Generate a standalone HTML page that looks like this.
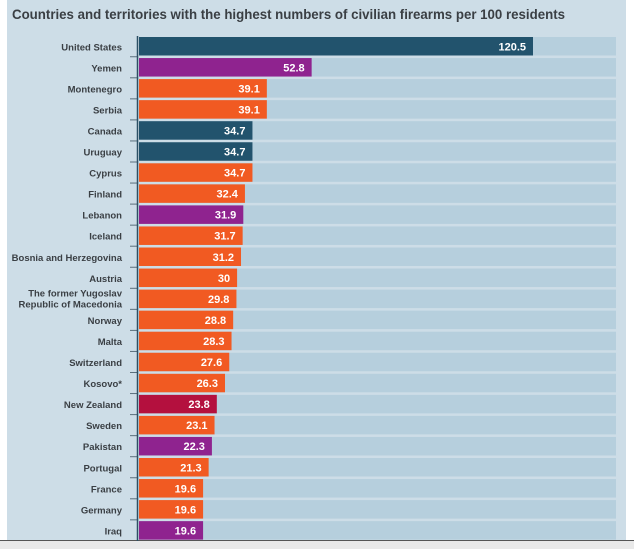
<!DOCTYPE html>
<html><head><meta charset="utf-8"><style>
body{margin:0;width:634px;height:549px;overflow:hidden;background:#fff;font-family:"Liberation Sans",sans-serif}
</style></head><body>
<svg id="chart" width="634" height="549" xmlns="http://www.w3.org/2000/svg">
<rect x="7" y="0" width="619" height="541" fill="#cddde7"/>
<rect x="0" y="541" width="634" height="8" fill="#e9e9e9"/>
<line x1="0" y1="540.5" x2="634" y2="540.5" stroke="#555" stroke-width="1"/>
<text x="12" y="19" font-size="14" font-weight="bold" fill="#3a3f44" textLength="553" lengthAdjust="spacingAndGlyphs">Countries and territories with the highest numbers of civilian firearms per 100 residents</text>
<g id="rows"></g>
<line x1="137.5" y1="36" x2="137.5" y2="541" stroke="#2c4f64" stroke-width="1.5"/>
</svg>
<script>
const categories=["United States","Yemen","Montenegro","Serbia","Canada","Uruguay","Cyprus","Finland","Lebanon","Iceland","Bosnia and Herzegovina","Austria","The former Yugoslav|Republic of Macedonia","Norway","Malta","Switzerland","Kosovo*","New Zealand","Sweden","Pakistan","Portugal","France","Germany","Iraq"];
const values=[120.5,52.8,39.1,39.1,34.7,34.7,34.7,32.4,31.9,31.7,31.2,30,29.8,28.8,28.3,27.6,26.3,23.8,23.1,22.3,21.3,19.6,19.6,19.6];
const labels=["120.5","52.8","39.1","39.1","34.7","34.7","34.7","32.4","31.9","31.7","31.2","30","29.8","28.8","28.3","27.6","26.3","23.8","23.1","22.3","21.3","19.6","19.6","19.6"];
const groups=["a","b","e","e","a","a","e","e","b","e","e","e","e","e","e","e","e","n","e","b","e","e","e","b"];
const colorMap={a:"#22536d",b:"#8f238f",e:"#f15a22",n:"#b4103e"};
const NS="http://www.w3.org/2000/svg";
const x0=139,pxPer=394/120.5,trackEnd=616,y0=37,pitch=21.05,bh=18.5;
const xs=v=>x0+v*pxPer;
const ys=i=>y0+i*pitch;
const g=document.getElementById('rows');
function mk(t,a){const e=document.createElementNS(NS,t);for(const k in a)e.setAttribute(k,a[k]);return e;}
categories.forEach((c,i)=>{
  const y=ys(i);
  const tr=mk('rect',{x:x0,y:y,width:trackEnd-x0,height:bh,fill:"#b6cfdd"});
  
  
  g.appendChild(tr);
  const b=mk('rect',{x:x0,y:y,width:xs(values[i])-x0,height:bh,fill:colorMap[groups[i]]});
  
  
  g.appendChild(b);
  const v=mk('text',{x:xs(values[i])-7,y:y+bh/2+4,'font-size':11,'font-weight':'bold',fill:'#fff','text-anchor':'end'});
  v.textContent=labels[i];
  
  
  g.appendChild(v);
  const parts=c.split('|');
  parts.forEach((p,j)=>{
    const yy=parts.length>1?y+bh/2+4-5.5+j*11-1:y+bh/2+4;
    const t=mk('text',{x:122,y:yy,'font-size':9.5,'font-weight':'bold',fill:'#3a3f44','text-anchor':'end'});
    t.textContent=p;
    
    
    g.appendChild(t);
  });
  if(i>0){
    const tk=mk('line',{x1:130,x2:137,y1:y-1.3,y2:y-1.3,stroke:'#5a6f7c','stroke-width':1});
    
    
    g.appendChild(tk);
  }
});
</script>
</body></html>
